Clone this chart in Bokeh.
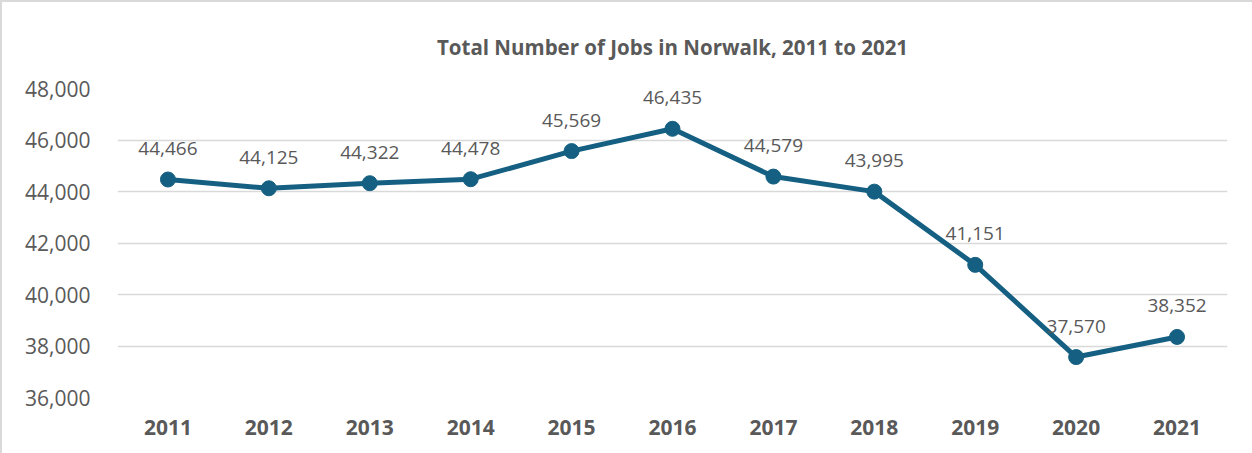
from bokeh.plotting import figure
from bokeh.models import ColumnDataSource, LabelSet, Range1d, FixedTicker, NumeralTickFormatter
from bokeh.core.properties import value
from bokeh.embed import file_html
from bokeh.resources import INLINE

years = ["2011", "2012", "2013", "2014", "2015", "2016", "2017", "2018", "2019", "2020", "2021"]
jobs = [44466, 44125, 44322, 44478, 45569, 46435, 44579, 43995, 41151, 37570, 38352]
labels = [f"{v:,}" for v in jobs]
y_ticks = [36000, 38000, 40000, 42000, 44000, 46000, 48000]

TEXT = "#595959"
LINE = "#156082"
FONT = "Open Sans"

src = ColumnDataSource(dict(year=years, jobs=jobs, label=labels))

p = figure(x_range=years, y_range=Range1d(36000, 48000), width=1252, height=453,
           output_backend="svg", toolbar_location=None,
           min_border_left=115, min_border_right=27, min_border_top=85, min_border_bottom=58,
           title="Total Number of Jobs in Norwalk, 2011 to 2021")

p.title.align = "center"
p.title.text_font = FONT
p.title.text_font_size = "20.5px"
p.title.text_font_style = "bold"
p.title.text_color = TEXT
p.title.standoff = 56

p.outline_line_color = None
p.background_fill_color = "white"
p.border_fill_color = "white"

p.line("year", "jobs", source=src, line_color=LINE, line_width=5)
p.scatter("year", "jobs", source=src, size=15, fill_color=LINE, line_color=LINE)

p.add_layout(LabelSet(x="year", y="jobs", text="label", source=src, y_offset=31,
                      text_align="center", text_baseline="middle",
                      text_font=value(FONT), text_font_size=value("19px"), text_color=TEXT))

p.yaxis.ticker = FixedTicker(ticks=y_ticks)
p.yaxis.formatter = NumeralTickFormatter(format="0,0")
for ax in (p.xaxis, p.yaxis):
    ax.axis_line_color = None
    ax.major_tick_line_color = None
    ax.minor_tick_line_color = None
    ax.major_label_text_color = TEXT
    ax.major_label_text_font = FONT
p.yaxis.major_label_text_font_size = "21px"
p.yaxis.major_label_standoff = 21
p.xaxis.major_label_text_font_size = "21px"
p.xaxis.major_label_text_font_style = "bold"
p.xaxis.major_label_standoff = 16

p.xgrid.grid_line_color = None
p.ygrid.grid_line_color = "#D9D9D9"
p.ygrid.grid_line_width = 1.5

p.styles = {"border-top": "2px solid #D9D9D9", "border-left": "2px solid #D9D9D9"}

open("out.html", "w").write(file_html(p, INLINE))
